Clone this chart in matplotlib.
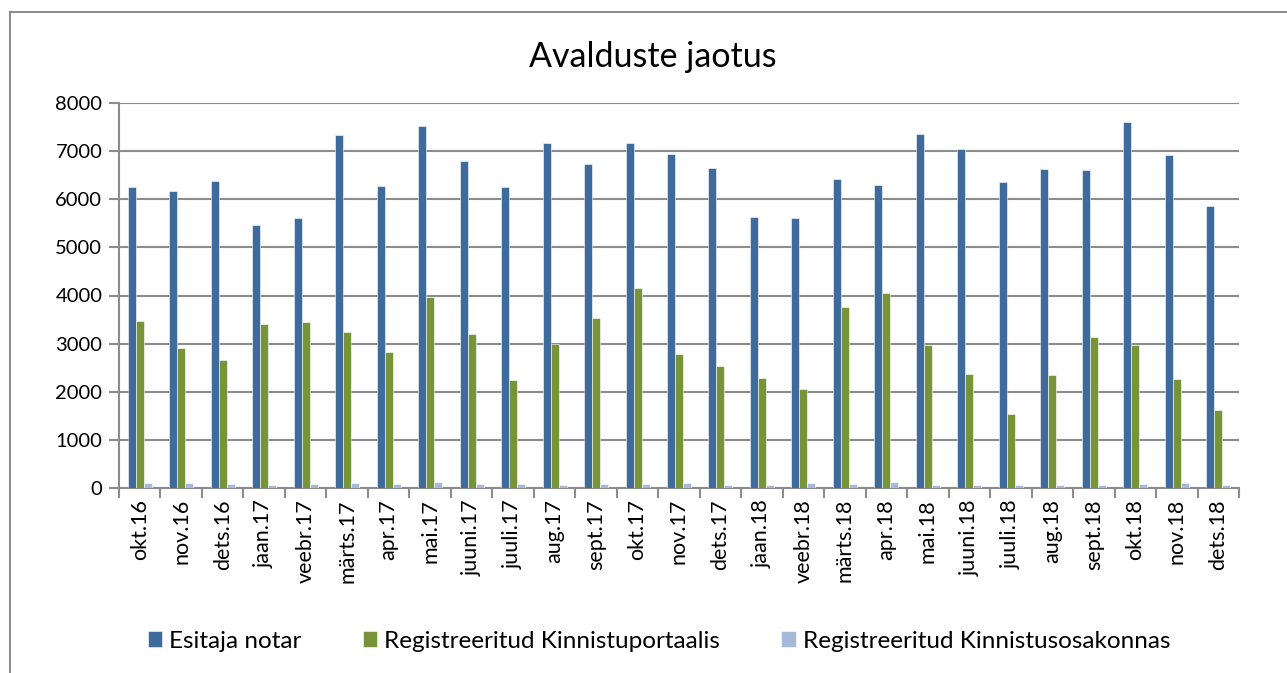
import numpy as np
import matplotlib.pyplot as plt
from matplotlib.patches import Rectangle

plt.rcParams['font.family'] = ['Lato', 'DejaVu Sans']

months = ['okt.16', 'nov.16', 'dets.16', 'jaan.17', 'veebr.17', 'märts.17', 'apr.17',
          'mai.17', 'juuni.17', 'juuli.17', 'aug.17', 'sept.17', 'okt.17', 'nov.17',
          'dets.17', 'jaan.18', 'veebr.18', 'märts.18', 'apr.18', 'mai.18', 'juuni.18',
          'juuli.18', 'aug.18', 'sept.18', 'okt.18', 'nov.18', 'dets.18']
notar = [6260, 6176, 6377, 5455, 5606, 7339, 6273, 7519, 6792, 6253, 7166, 6737, 7166,
         6938, 6647, 5626, 5619, 6415, 6291, 7353, 7035, 6367, 6619, 6612, 7595, 6917, 5862]
portaal = [3471, 2903, 2654, 3401, 3450, 3235, 2820, 3972, 3194, 2239, 3000, 3526, 4159,
           2792, 2543, 2287, 2052, 3754, 4045, 2979, 2370, 1543, 2353, 3131, 2972, 2263, 1619]
osakond = [100, 100, 90, 70, 80, 100, 90, 130, 80, 80, 60, 80, 80,
           100, 70, 70, 100, 80, 130, 70, 70, 60, 60, 70, 80, 100, 70]
series_names = ['Esitaja notar', 'Registreeritud Kinnistuportaalis', 'Registreeritud Kinnistusosakonnas']
colors = ['#3E6A9C', '#779439', '#A7B9DA']

fig = plt.figure(figsize=(12.87, 6.73), dpi=100)
ax = fig.add_axes([119 / 1287, 1 - 488 / 673, 1120 / 1287, 385 / 673])

x = np.arange(len(months))
w = 0.193
for i, (vals, name, c) in enumerate(zip([notar, portaal, osakond], series_names, colors)):
    ax.bar(x + (i - 1) * w, vals, w, color=c, label=name, zorder=3,
           edgecolor='white', linewidth=0.4)

ax.set_xlim(-0.5, len(months) - 0.5)
ax.set_ylim(0, 8000)
ax.set_yticks(range(0, 8001, 1000))
ax.grid(axis='y', color='#8c8c8c', linewidth=1.5, zorder=0)
ax.set_xticks(np.arange(-0.5, len(months), 1))
ax.set_xticklabels([])
ax.set_xticks(x, minor=True)
ax.set_xticklabels(months, minor=True, rotation=90, fontsize=15.5)
ax.tick_params(axis='x', which='major', length=7, width=1.5, color='#8c8c8c')
ax.tick_params(axis='x', which='minor', length=0, pad=8)
ax.tick_params(axis='y', length=7, width=1.5, color='#8c8c8c', labelsize=14.5, pad=5)
for s in ['top', 'right']:
    ax.spines[s].set_visible(False)
for s in ['left', 'bottom']:
    ax.spines[s].set_color('#8c8c8c')
    ax.spines[s].set_linewidth(1.5)

fig.text(653 / 1287, 1 - 57 / 673, 'Avalduste jaotus', fontsize=24.5, ha='center', va='center')

fig.legend(loc='center', bbox_to_anchor=(659 / 1287, 1 - 641 / 673), ncol=3, frameon=False,
           fontsize=17.5, handlelength=0.6, handleheight=0.6, handletextpad=0.3,
           columnspacing=2.5)

fig.patches.append(Rectangle((10 / 1287, -0.01), 1 - 10 / 1287 + 0.01, 1 - 12 / 673 + 0.01,
                             transform=fig.transFigure, fill=False, edgecolor='#8c8c8c',
                             linewidth=1.5))

fig.savefig('out.png', dpi=100)
